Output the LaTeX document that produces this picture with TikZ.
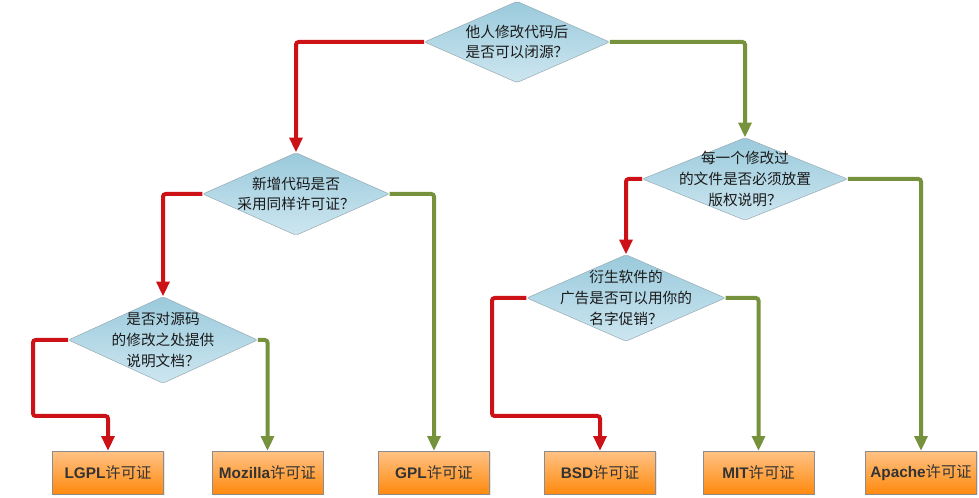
\documentclass[tikz,border=0pt]{standalone}
\usepackage{fontspec}
\setmainfont{Liberation Sans}
\newfontfamily\cjk{Noto Sans CJK SC}
\usetikzlibrary{shapes.geometric,arrows.meta,shadows}
\definecolor{nored}{HTML}{CC1216}
\definecolor{yesgreen}{HTML}{76923C}
\definecolor{qtop}{HTML}{9ACADC}
\definecolor{qbottom}{HTML}{CDE6F0}
\definecolor{qborder}{HTML}{98ADB6}
\definecolor{qink}{HTML}{1A1A1A}
\definecolor{ltop}{HTML}{FFC285}
\definecolor{lbottom}{HTML}{FF8A0E}
\definecolor{lborder}{HTML}{8C8C8C}
\definecolor{link}{HTML}{333333}

\begin{document}
\begin{tikzpicture}[x=0.75pt, y=-0.75pt,
  question/.style={draw=qborder, shape=diamond, rounded corners=1.5pt, top color=qtop, bottom color=qbottom, inner sep=0pt},
  qtext/.style={align=center, text=qink, font=\cjk\fontsize{11}{15.5}\selectfont},
  licence/.style={draw=lborder, rectangle, top color=ltop, bottom color=lbottom, minimum width=83pt, minimum height=32pt, text=link, font=\bfseries\fontsize{11.5}{12}\selectfont, drop shadow={opacity=0.2, shadow xshift=1pt, shadow yshift=-1pt}},
  noline/.style={draw=nored, line width=3pt, rounded corners=2pt, -{Triangle[width=9.5pt, length=11pt]}},
  yesline/.style={draw=yesgreen, line width=3pt, rounded corners=2pt, -{Triangle[width=9.5pt, length=11pt]}}]
\useasboundingbox (0,0) rectangle (979,498);
% questions
\node[question, minimum width=139pt, minimum height=61pt, label={[qtext]center:{他人修改代码后\\是否可以闭源？}}] (Q1) at (517,42) {};
\node[question, minimum width=140pt, minimum height=62pt, label={[qtext]center:{新增代码是否\\采用同样许可证？}}] (Q2) at (296,194) {};
\node[question, minimum width=154pt, minimum height=62pt, label={[qtext]center:{每一个修改过\\的文件是否必须放置\\版权说明？}}] (Q3) at (745,179) {};
\node[question, minimum width=142pt, minimum height=65pt, label={[qtext]center:{是否对源码\\的修改之处提供\\说明文档？}}] (Q4) at (163,340) {};
\node[question, minimum width=149pt, minimum height=65pt, label={[qtext]center:{衍生软件的\\广告是否可以用你的\\名字促销？}}] (Q5) at (626,298) {};
% licences
\node[licence] (L1) at (108,472.5) {LGPL{\cjk\mdseries 许可证}};
\node[licence] (L2) at (267.5,472.5) {Mozilla{\cjk\mdseries 许可证}};
\node[licence] (L3) at (434,472.5) {GPL{\cjk\mdseries 许可证}};
\node[licence] (L4) at (600,472.5) {BSD{\cjk\mdseries 许可证}};
\node[licence] (L5) at (758.5,472.5) {MIT{\cjk\mdseries 许可证}};
\node[licence] (L6) at (921,472.5) {Apache{\cjk\mdseries 许可证}};
\coordinate (C1) at (33,416);
\coordinate (C2) at (492,416);
% connectors
\draw[noline] (Q1.west) -| (Q2.north);
\draw[yesline] (Q1.east) -| (Q3.north);
\draw[noline] (Q2.west) -| (Q4.north);
\draw[yesline] (Q2.east) -| (L3.north);
\draw[noline] (Q4.west) -| (C1) -| (L1.north);
\draw[yesline] (Q4.east) -| (L2.north);
\draw[noline] (Q3.west) -| (Q5.north);
\draw[yesline] (Q3.east) -| (L6.north);
\draw[noline] (Q5.west) -| (C2) -| (L4.north);
\draw[yesline] (Q5.east) -| (L5.north);
\end{tikzpicture}
\end{document}
